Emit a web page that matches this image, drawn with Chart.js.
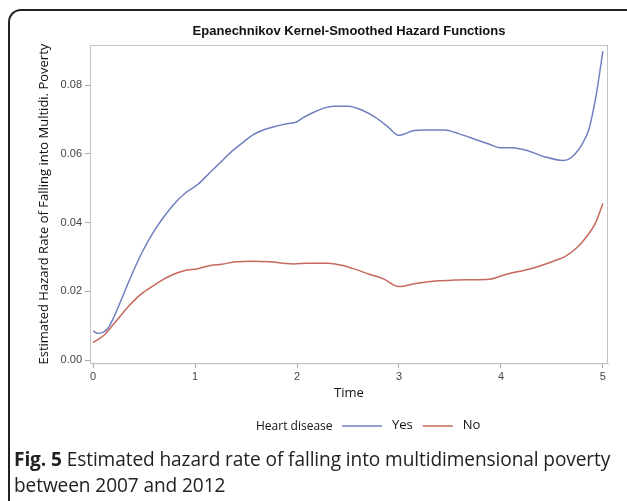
<!DOCTYPE html>
<html>
<head>
<meta charset="utf-8">
<script src="https://cdn.jsdelivr.net/npm/chart.js@4.4.1/dist/chart.umd.min.js"></script>
<style>
  html, body { margin: 0; padding: 0; background: #fff; }
  body { width: 627px; height: 501px; position: relative; overflow: hidden; }
  #frame {
    position: absolute; left: 8px; top: 9px; width: 700px; height: 600px;
    border-left: 2px solid #222; border-top: 2px solid #222;
    border-top-left-radius: 13px; pointer-events: none;
  }
  #wrap { position: absolute; left: 0; top: 0; width: 627px; height: 442px; }
  #caption {
    position: absolute; left: 14px; top: 446px; width: 613px;
    font-family: "Open Sans", sans-serif; font-size: 19.1px; line-height: 26px;
    letter-spacing: -0.1px; color: #222;
  }
  #caption b { font-weight: 700; }
</style>
</head>
<body>
<div id="wrap"><canvas id="chart"></canvas></div>
<div id="frame"></div>
<div id="caption"><b>Fig. 5</b> Estimated hazard rate of falling into multidimensional poverty between 2007 and 2012</div>
<script>
// Kernel-smoothed hazard, heart disease = Yes
const timeYes = [0, 0.044, 0.091, 0.151, 0.202, 0.286, 0.353, 0.471, 0.589, 0.690, 0.791, 0.908,
  1.026, 1.144, 1.262, 1.363, 1.464, 1.564, 1.682, 1.800, 1.901, 1.995, 2.069, 2.170, 2.271,
  2.355, 2.507, 2.641, 2.776, 2.894, 2.995, 3.146, 3.247, 3.449, 3.584, 3.752, 3.887, 3.987,
  4.105, 4.256, 4.425, 4.610, 4.660, 4.727, 4.795, 4.862, 4.929, 5.0];
const hazardYes = [0.0085, 0.0078, 0.0080, 0.0095, 0.0124, 0.0182, 0.0230, 0.0308, 0.0371, 0.0415,
  0.0453, 0.0487, 0.0511, 0.0545, 0.0579, 0.0608, 0.0632, 0.0655, 0.0671, 0.0681, 0.0688, 0.0693,
  0.0707, 0.0722, 0.0734, 0.0739, 0.0739, 0.0727, 0.0705, 0.0678, 0.0654, 0.0668, 0.0670, 0.0670,
  0.0659, 0.0642, 0.0628, 0.0618, 0.0618, 0.0610, 0.0592, 0.0581, 0.0584, 0.0600, 0.0628, 0.0671,
  0.0763, 0.0899];

// Kernel-smoothed hazard, heart disease = No
const timeNo = [0, 0.101, 0.202, 0.353, 0.471, 0.589, 0.690, 0.791, 0.892, 1.026, 1.161, 1.262,
  1.396, 1.564, 1.733, 1.867, 1.968, 2.103, 2.305, 2.439, 2.574, 2.709, 2.843, 2.995, 3.180,
  3.382, 3.550, 3.752, 3.903, 4.054, 4.223, 4.374, 4.526, 4.627, 4.744, 4.845, 4.929, 5.0];
const hazardNo = [0.0051, 0.0071, 0.0105, 0.0158, 0.0192, 0.0216, 0.0235, 0.0250, 0.0260, 0.0266,
  0.0276, 0.0279, 0.0286, 0.0288, 0.0286, 0.0282, 0.0280, 0.0282, 0.0282, 0.0276, 0.0264, 0.0250,
  0.0237, 0.0214, 0.0224, 0.0231, 0.0233, 0.0234, 0.0236, 0.0250, 0.0261, 0.0273, 0.0289, 0.0301,
  0.0327, 0.0361, 0.0400, 0.0456];

const xTicks = [0, 1, 2, 3, 4, 5];
const yTicks = [0, 0.02, 0.04, 0.06, 0.08];
const groupLabels = ["Yes", "No"];

const tickFont = { family: "'Liberation Sans', Arial, sans-serif", size: 11 };
const textFont = "'Open Sans', sans-serif";

function toPoints(xs, ys) {
  return xs.map((x, i) => ({ x: x, y: ys[i] }));
}

// frame, title and legend drawn around the plot
const decorations = {
  id: "decorations",
  afterDatasetsDraw(chart) {
    const { ctx, chartArea: a } = chart;
    ctx.save();
    ctx.strokeStyle = "#c4c4c4";
    ctx.lineWidth = 1;
    ctx.strokeRect(a.left + 0.5, a.top + 0.5, a.right - a.left - 1, a.bottom - a.top);

    ctx.fillStyle = "#111";
    ctx.font = "bold 13px 'Liberation Sans', Arial, sans-serif";
    ctx.textAlign = "center";
    ctx.textBaseline = "middle";
    ctx.fillText("Epanechnikov Kernel-Smoothed Hazard Functions", (a.left + a.right) / 2, 31);

    // legend
    const ly = 426;
    ctx.font = "12px " + textFont;
    ctx.textAlign = "left";
    ctx.fillStyle = "#111";
    ctx.fillText("Heart disease", 256, ly + 1);
    let x = 342;
    ctx.font = "13px " + textFont;
    chart.data.datasets.forEach((ds, i) => {
      const w = i === 0 ? 40 : 30;
      ctx.strokeStyle = ds.borderColor;
      ctx.lineWidth = 1.5;
      ctx.beginPath();
      ctx.moveTo(x, ly);
      ctx.lineTo(x + w, ly);
      ctx.stroke();
      ctx.fillStyle = "#111";
      ctx.fillText(ds.label, x + w + 10, ly - 1);
      x += w + 10 + ctx.measureText(ds.label).width + 10;
    });
    ctx.restore();
  }
};

new Chart(document.getElementById("chart"), {
  type: "line",
  data: {
    datasets: [
      {
        label: groupLabels[0],
        data: toPoints(timeYes, hazardYes),
        borderColor: "#7080bf",
        borderWidth: 1.5,
        pointRadius: 0,
        cubicInterpolationMode: "monotone"
      },
      {
        label: groupLabels[1],
        data: toPoints(timeNo, hazardNo),
        borderColor: "#c4695c",
        borderWidth: 1.5,
        pointRadius: 0,
        cubicInterpolationMode: "monotone"
      }
    ]
  },
  options: {
    responsive: true,
    maintainAspectRatio: false,
    animation: false,
    layout: { padding: { left: 36, right: 19, top: 45, bottom: 41 } },
    plugins: {
      legend: { display: false },
      tooltip: { enabled: false }
    },
    scales: {
      x: {
        type: "linear",
        min: -0.03,
        max: 5.05,
        afterBuildTicks: (axis) => { axis.ticks = xTicks.map(v => ({ value: v })); },
        ticks: { color: "#444", font: tickFont, padding: 2, maxRotation: 0 },
        grid: { drawOnChartArea: false, drawTicks: true, tickLength: 5, color: "#aaa" },
        border: { display: true, color: "#c4c4c4" },
        title: { display: true, text: "Time", color: "#111", font: { family: textFont, size: 13 }, padding: { top: 0, bottom: 0 } }
      },
      y: {
        min: -0.0009,
        max: 0.0917,
        afterBuildTicks: (axis) => { axis.ticks = yTicks.map(v => ({ value: v })); },
        ticks: { color: "#444", font: tickFont, padding: 3, callback: (v) => v.toFixed(2) },
        grid: { drawOnChartArea: false, drawTicks: true, tickLength: 5, color: "#aaa" },
        border: { display: true, color: "#c4c4c4" },
        title: { display: true, text: "Estimated Hazard Rate of Falling into Multidi. Poverty", color: "#111", font: { family: textFont, size: 13 }, padding: { top: 0, bottom: 6 } }
      }
    }
  },
  plugins: [decorations]
});
</script>
</body>
</html>
